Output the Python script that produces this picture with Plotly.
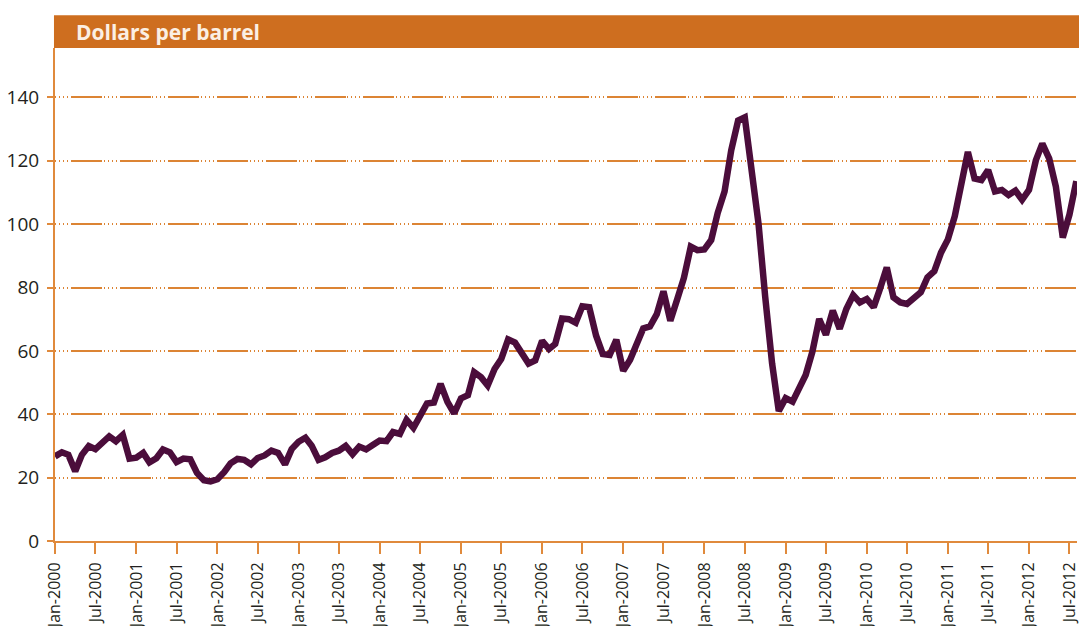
import plotly.graph_objects as go
import pandas as pd

months = pd.date_range("2000-01-01", "2012-08-01", freq="MS")

prices_2000 = [26.7, 28.0, 27.2, 22.0, 27.2, 30.0, 29.0, 30.8, 33.0, 31.5, 33.5, 26.0]
prices_2001 = [26.3, 27.8, 24.8, 26.1, 28.9, 28.0, 24.9, 26.0, 25.8, 21.5, 19.2, 18.8]
prices_2002 = [19.5, 21.8, 24.5, 25.9, 25.6, 24.2, 26.2, 27.0, 28.5, 27.8, 24.2, 29.0]
prices_2003 = [31.3, 32.6, 30.1, 25.6, 26.4, 27.8, 28.5, 30.0, 27.4, 29.8, 28.9, 30.3]
prices_2004 = [31.7, 31.5, 34.4, 33.8, 38.2, 35.7, 39.3, 43.4, 43.7, 49.6, 43.9, 40.3]
prices_2005 = [45.0, 46.0, 53.3, 51.7, 49.1, 54.3, 57.4, 63.6, 62.6, 59.5, 56.0, 57.0]
prices_2006 = [63.2, 60.6, 62.2, 70.2, 70.0, 68.9, 74.1, 73.8, 64.8, 59.0, 58.7, 63.5]
prices_2007 = [53.7, 57.2, 61.7, 67.1, 67.7, 71.6, 78.8, 69.5, 76.3, 83.0, 92.9, 91.8]
prices_2008 = [92.0, 95.0, 103.5, 110.3, 123.3, 132.7, 133.7, 117.0, 100.0, 77.0, 56.0, 41.0]
prices_2009 = [45.1, 44.0, 48.2, 52.4, 59.7, 70.1, 65.1, 72.7, 67.0, 73.2, 77.6, 75.3]
prices_2010 = [76.4, 73.8, 79.5, 86.3, 76.9, 75.3, 74.8, 76.9, 78.5, 83.2, 85.2, 91.0]
prices_2011 = [95.2, 102.5, 112.9, 122.8, 114.4, 113.9, 117.1, 110.3, 110.8, 109.2, 110.6, 107.7]
prices_2012 = [110.8, 120.2, 125.4, 120.7, 111.8, 95.8, 103.0, 113.6]

prices = (prices_2000 + prices_2001 + prices_2002 + prices_2003 + prices_2004 +
          prices_2005 + prices_2006 + prices_2007 + prices_2008 + prices_2009 +
          prices_2010 + prices_2011 + prices_2012)

y_ticks = [0, 20, 40, 60, 80, 100, 120, 140]
header_text = "Dollars per barrel"

ORANGE = "#E08A3C"
HEADER = "#CE6E1F"
LINE = "#4B0D3B"
TEXT = "#231F20"

fig = go.Figure()
fig.add_trace(go.Scatter(
    x=months, y=prices, mode="lines",
    line=dict(color=LINE, width=6.5),
    hoverinfo="x+y", showlegend=False,
))

fig.update_layout(
    width=1079, height=626,
    margin=dict(l=55, r=2, t=48, b=85),
    paper_bgcolor="white", plot_bgcolor="white",
    font=dict(family="Open Sans", color=TEXT),
    xaxis=dict(
        type="date",
        range=["2000-01-01", "2012-08-04"],
        tick0="2000-01-01", dtick="M6", tickformat="%b-%Y",
        tickangle=-90,
        automargin=False,
        ticklabeloverflow="allow",
        showgrid=False, zeroline=False,
        showline=True, linecolor=ORANGE, linewidth=2,
        ticks="outside", ticklen=11, tickwidth=2, tickcolor=ORANGE,
        tickfont=dict(size=16, color=TEXT, family="Open Sans"),
        ticklabelstandoff=2,
    ),
    yaxis=dict(
        range=[0, 155.6],
        tickvals=y_ticks,
        automargin=False,
        showgrid=True, gridcolor="#DC8434", gridwidth=1.6,
        griddash="1px,3px,1px,3px,1px,3px,1px,3px,31px,1.7px",
        zeroline=False,
        showline=True, linecolor=ORANGE, linewidth=2,
        ticks="outside", ticklen=6, tickwidth=2, tickcolor=ORANGE,
        tickfont=dict(size=19, color=TEXT, family="Open Sans"),
        ticklabelstandoff=4,
    ),
    shapes=[dict(
        type="rect", xref="paper", yref="paper",
        x0=-0.001, x1=1.002, y0=1.0, y1=1.0663,
        fillcolor=HEADER, line=dict(width=0), layer="above",
    )],
    annotations=[dict(
        text="<b>" + header_text + "</b>", xref="paper", yref="paper",
        x=0.0186, y=1.033, xanchor="left", yanchor="middle",
        showarrow=False, font=dict(size=21, color="#FBEFE3", family="Open Sans"),
    )],
)

fig.write_html(
    "out.html",
    config={"displayModeBar": False},
    post_script="document.body.style.margin='0';document.body.style.padding='0';"
                "document.documentElement.style.overflow='hidden';",
)
